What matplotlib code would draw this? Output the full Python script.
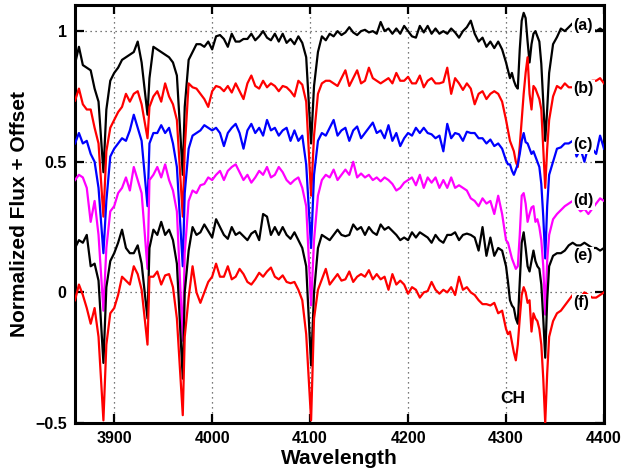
import numpy as np
import matplotlib
matplotlib.use("Agg")
import matplotlib.pyplot as plt

# ---------------- data ----------------
wavelength = [
    3860, 3864, 3868, 3872, 3876, 3880, 3884,
    3889,
    3892, 3896, 3900, 3904, 3908, 3912, 3916, 3920, 3924, 3928,
    3934,
    3936, 3940, 3944, 3948, 3952, 3956, 3960, 3964,
    3970,
    3972, 3976, 3980, 3984, 3988, 3992, 3996, 4000, 4004, 4008, 4012, 4016,
    4020, 4024, 4028, 4032, 4036, 4040, 4044, 4048, 4052, 4056, 4060, 4064,
    4068, 4072, 4076, 4080, 4084, 4088, 4092, 4096,
    4101,
    4104, 4108, 4112, 4116, 4120, 4124, 4128, 4132, 4136, 4140, 4144, 4148,
    4152, 4156, 4160, 4164, 4168, 4172, 4176, 4180, 4184, 4188, 4192, 4196,
    4200, 4204, 4208, 4212, 4216, 4220, 4224, 4228, 4232, 4236, 4240, 4244,
    4248, 4252, 4256, 4260, 4264, 4268, 4272, 4276, 4280, 4284, 4288, 4292,
    4296,
    4300, 4302, 4304, 4306, 4308, 4310, 4312, 4314, 4316, 4318, 4320, 4322,
    4324, 4326, 4328, 4330, 4332, 4334, 4336, 4338, 4340, 4342, 4344,
    4348, 4352, 4356, 4360, 4364, 4368, 4372, 4376, 4380, 4384, 4388, 4392,
    4396, 4400,
]

flux_a = [
    0.875, 0.94, 0.87, 0.86, 0.85, 0.78, 0.73,
    0.46,
    0.70, 0.81, 0.84, 0.86, 0.89, 0.90, 0.91, 0.92, 0.96, 0.88,
    0.68,
    0.82, 0.94, 0.93, 0.92, 0.91, 0.90, 0.88, 0.83,
    0.45,
    0.71, 0.89, 0.92, 0.95, 0.95, 0.94, 0.96, 0.93, 0.98, 0.985, 0.97, 0.94,
    0.99, 0.96, 0.96, 0.97, 0.97, 0.99, 0.965, 0.98, 1.00, 0.975, 0.965, 0.99,
    0.96, 0.99, 0.955, 0.97, 0.95, 0.98, 0.955, 0.90,
    0.57,
    0.79, 0.92, 0.98, 0.965, 0.99, 0.98, 1.00, 0.985, 0.995, 1.015, 0.995, 0.985,
    1.00, 1.005, 0.995, 1.00, 0.99, 1.035, 1.00, 1.01, 0.99, 1.01, 0.99, 1.02,
    1.00, 0.98, 0.975, 1.02, 0.995, 1.02, 0.99, 1.01, 0.99, 1.00, 0.99, 1.01,
    0.995, 0.975, 1.00, 1.015, 1.04, 0.99, 0.96, 0.975, 0.94, 0.96, 0.935, 0.96,
    0.93,
    0.88, 0.85, 0.82, 0.84, 0.81, 0.79, 0.78, 0.93, 1.04, 1.07, 1.05, 0.96,
    0.88, 0.95, 0.99, 1.00, 0.98, 0.96, 0.875, 0.73, 0.58, 0.70, 0.84,
    0.95, 0.977, 1.01, 1.00, 1.015, 1.03, 1.02, 1.00, 1.01, 1.00, 1.01, 1.00,
    1.01, 1.00,
]

flux_b = [
    0.734, 0.78, 0.72, 0.70, 0.70, 0.63, 0.57,
    0.29,
    0.54, 0.63, 0.66, 0.69, 0.71, 0.76, 0.73, 0.76, 0.77, 0.72,
    0.59,
    0.71, 0.75, 0.77, 0.73, 0.80, 0.75, 0.72, 0.66,
    0.29,
    0.55, 0.80, 0.785, 0.78, 0.76, 0.74, 0.71, 0.77, 0.79, 0.785, 0.77, 0.79,
    0.765, 0.80, 0.77, 0.74, 0.80, 0.83, 0.79, 0.78, 0.81, 0.785, 0.80, 0.79,
    0.77, 0.79, 0.785, 0.77, 0.75, 0.81, 0.795, 0.73,
    0.37,
    0.60, 0.76, 0.80, 0.81, 0.81, 0.80, 0.79, 0.82, 0.85, 0.79, 0.82, 0.85,
    0.80, 0.81, 0.86, 0.82, 0.81, 0.80, 0.81, 0.82, 0.80, 0.84, 0.81, 0.81,
    0.825, 0.80, 0.80, 0.83, 0.785, 0.81, 0.82, 0.80, 0.80, 0.805, 0.86, 0.76,
    0.82, 0.80, 0.775, 0.80, 0.78, 0.72, 0.76, 0.77, 0.74, 0.76, 0.77, 0.76,
    0.73,
    0.66, 0.62, 0.58, 0.56, 0.54, 0.50, 0.48, 0.56, 0.66, 0.76, 0.84, 0.90,
    0.76, 0.70, 0.79, 0.78, 0.76, 0.74, 0.70, 0.55, 0.40, 0.55, 0.66,
    0.75, 0.79, 0.78, 0.80, 0.785, 0.785, 0.79, 0.80, 0.78, 0.80, 0.81, 0.81,
    0.82, 0.80,
]

flux_c = [
    0.57, 0.61, 0.57, 0.58, 0.53, 0.50, 0.40,
    0.15,
    0.35, 0.52, 0.55, 0.57, 0.59, 0.58, 0.62, 0.68, 0.63, 0.58,
    0.33,
    0.57, 0.61, 0.61, 0.64, 0.61, 0.63, 0.57, 0.48,
    0.10,
    0.38, 0.55, 0.60, 0.61, 0.62, 0.64, 0.63, 0.62, 0.63, 0.61, 0.56, 0.61,
    0.63, 0.645, 0.61, 0.55, 0.62, 0.645, 0.61, 0.63, 0.60, 0.66, 0.62, 0.63,
    0.60, 0.62, 0.63, 0.58, 0.62, 0.58, 0.60, 0.49,
    0.17,
    0.45, 0.58, 0.61, 0.60, 0.63, 0.66, 0.60, 0.62, 0.63, 0.58, 0.62, 0.635,
    0.59, 0.61, 0.63, 0.65, 0.61, 0.62, 0.59, 0.64, 0.58, 0.61, 0.56, 0.59,
    0.61, 0.60, 0.63, 0.61, 0.63, 0.61, 0.605, 0.59, 0.60, 0.54, 0.645, 0.59,
    0.61, 0.605, 0.58, 0.615, 0.61, 0.61, 0.59, 0.59, 0.57, 0.585, 0.56, 0.57,
    0.55,
    0.505, 0.49, 0.49, 0.466, 0.45, 0.47, 0.49, 0.53, 0.58, 0.61, 0.575, 0.57,
    0.55, 0.53, 0.54, 0.52, 0.50, 0.48, 0.415, 0.29, 0.13, 0.33, 0.45,
    0.50, 0.55, 0.555, 0.57, 0.57, 0.58, 0.52, 0.55, 0.50, 0.56, 0.55, 0.53,
    0.60, 0.55,
]

flux_d = [
    0.43, 0.45, 0.44, 0.40, 0.27, 0.35, 0.22,
    -0.07,
    0.17, 0.31, 0.33, 0.38, 0.40, 0.44, 0.39, 0.48, 0.43, 0.38,
    0.09,
    0.43, 0.45, 0.48, 0.44, 0.49, 0.43, 0.39, 0.31,
    -0.185,
    0.15, 0.35, 0.39, 0.38, 0.41, 0.415, 0.44, 0.43, 0.45, 0.465, 0.43, 0.465,
    0.48, 0.49, 0.46, 0.43, 0.45, 0.42, 0.44, 0.465, 0.45, 0.48, 0.44, 0.45,
    0.48, 0.46, 0.43, 0.415, 0.43, 0.44, 0.40, 0.33,
    -0.05,
    0.20, 0.37, 0.43, 0.45, 0.44, 0.47, 0.43, 0.45, 0.47, 0.45, 0.50, 0.44,
    0.455, 0.44, 0.45, 0.43, 0.44, 0.425, 0.44, 0.43, 0.415, 0.39, 0.40, 0.42,
    0.43, 0.44, 0.41, 0.45, 0.40, 0.44, 0.42, 0.44, 0.40, 0.43, 0.40, 0.44,
    0.40, 0.41, 0.40, 0.39, 0.36, 0.35, 0.33, 0.36, 0.34, 0.35, 0.30, 0.37,
    0.30,
    0.20, 0.19, 0.16, 0.13, 0.11, 0.09, 0.10, 0.22, 0.37, 0.38, 0.34, 0.27,
    0.30, 0.325, 0.33, 0.27, 0.28, 0.25, 0.20, 0.10, -0.085, 0.12, 0.22,
    0.28, 0.30, 0.315, 0.33, 0.34, 0.35, 0.33, 0.31, 0.32, 0.30, 0.32, 0.34,
    0.36, 0.35,
]

flux_e = [
    0.17, 0.20, 0.19, 0.22, 0.10, 0.11, 0.045,
    -0.27,
    0.02, 0.12, 0.15, 0.19, 0.24, 0.17, 0.15, 0.15, 0.18, 0.11,
    -0.10,
    0.17, 0.24, 0.22, 0.27, 0.22, 0.24, 0.20, 0.11,
    -0.33,
    0.00, 0.16, 0.25, 0.22, 0.23, 0.26, 0.235, 0.21, 0.28, 0.25, 0.22, 0.205,
    0.25, 0.22, 0.23, 0.215, 0.20, 0.225, 0.235, 0.20, 0.30, 0.29, 0.22, 0.25,
    0.22, 0.25, 0.22, 0.205, 0.23, 0.20, 0.17, 0.10,
    -0.28,
    0.00, 0.17, 0.22, 0.21, 0.20, 0.22, 0.24, 0.22, 0.215, 0.22, 0.26, 0.24,
    0.25, 0.22, 0.25, 0.23, 0.22, 0.26, 0.24, 0.25, 0.235, 0.22, 0.20, 0.21,
    0.20, 0.23, 0.21, 0.23, 0.22, 0.21, 0.19, 0.22, 0.20, 0.19, 0.22, 0.22,
    0.23, 0.20, 0.22, 0.225, 0.22, 0.21, 0.16, 0.25, 0.14, 0.21, 0.14, 0.17,
    0.16,
    0.10, 0.04, -0.03, -0.05, -0.06, -0.10, -0.12, 0.04, 0.19, 0.23, 0.17, 0.10,
    0.08, 0.12, 0.16, 0.12, 0.10, 0.09, 0.03, -0.10, -0.25, -0.03, 0.10,
    0.14, 0.15, 0.15, 0.16, 0.18, 0.19, 0.18, 0.18, 0.19, 0.18, 0.17, 0.17,
    0.16, 0.17,
]

flux_f = [
    -0.03, 0.03, -0.01, -0.06, -0.12, -0.06, -0.17,
    -0.49,
    -0.20, -0.08, -0.06, -0.01, 0.06, 0.045, 0.03, 0.10, 0.07, 0.01,
    -0.20,
    0.06, 0.06, 0.08, 0.03, 0.065, 0.07, 0.02, -0.10,
    -0.47,
    -0.17, -0.02, 0.10, 0.00, -0.04, 0.00, 0.04, 0.06, 0.11, 0.06, 0.06, 0.10,
    0.05, 0.06, 0.09, 0.07, 0.04, 0.03, 0.05, 0.075, 0.06, 0.08, 0.095, 0.06,
    0.05, 0.065, 0.04, 0.035, 0.04, 0.01, -0.03, -0.16,
    -0.49,
    -0.10, 0.01, 0.05, 0.09, 0.03, 0.05, 0.07, 0.045, 0.05, 0.08, 0.04, 0.06,
    0.07, 0.06, 0.085, 0.05, 0.07, 0.05, 0.06, 0.01, 0.07, 0.03, 0.045, 0.03,
    -0.005, 0.02, 0.01, -0.02, 0.00, 0.005, 0.04, 0.01, -0.005, 0.01, 0.00, 0.02,
    -0.01, 0.06, 0.01, 0.02, 0.00, -0.01, -0.03, -0.045, -0.045, -0.05, -0.04, -0.08,
    -0.07,
    -0.14, -0.16, -0.15, -0.19, -0.23, -0.26, -0.20, -0.10, -0.01, 0.02, 0.00, -0.04,
    -0.03, -0.15, -0.08, -0.10, -0.11, -0.14, -0.20, -0.33, -0.50, -0.31, -0.17,
    -0.11, -0.08, -0.07, -0.05, -0.03, -0.01, -0.01, -0.02, 0.00, -0.01, -0.02, -0.02,
    -0.01, 0.00,
]

spectra = [flux_a, flux_b, flux_c, flux_d, flux_e, flux_f]
spectrum_labels = ["(a)", "(b)", "(c)", "(d)", "(e)", "(f)"]
colors = ["black", "red", "blue", "magenta", "black", "red"]

x_ticks = [3900, 4000, 4100, 4200, 4300, 4400]
y_ticks = [-0.5, 0, 0.5, 1]
y_tick_labels = ["\u22120.5", "0", "0.5", "1"]

for s in spectra:
    assert len(s) == len(wavelength), (len(s), len(wavelength))

# ---------------- figure ----------------
plt.rcParams["font.family"] = ["Liberation Sans", "DejaVu Sans"]
plt.rcParams["font.weight"] = "bold"
plt.rcParams["axes.labelweight"] = "bold"

fig = plt.figure(figsize=(6.23, 4.76), dpi=100)
ax = fig.add_axes([0.1204, 0.1113, 0.8491, 0.8782])

for flux, col in zip(spectra, colors):
    ax.plot(wavelength, flux, color=col, linewidth=1.6, zorder=3)

label_x = 4369
label_y = [1.02, 0.78, 0.565, 0.35, 0.14, -0.04]
for lab, ly in zip(spectrum_labels, label_y):
    ax.text(label_x, ly, lab, fontsize=11.5, fontweight="bold", ha="left",
            va="center", zorder=5,
            bbox=dict(facecolor="white", edgecolor="none", pad=1.0))

ax.text(4307, -0.405, "CH", fontsize=12.5, fontweight="bold", ha="center",
        va="center", zorder=5)

ax.set_xlim(3860, 4400)
ax.set_ylim(-0.5, 1.1)
ax.set_xticks(x_ticks)
ax.set_yticks(y_ticks)
ax.set_yticklabels(y_tick_labels)

ax.grid(True, linestyle=(0, (1, 3)), color="0.3", linewidth=0.9)
ax.set_axisbelow(True)
ax.tick_params(direction="in", length=6.5, width=1.6, top=True, right=True,
               labelsize=11.5, pad=6)
for sp in ax.spines.values():
    sp.set_linewidth(2.2)

ax.set_xlabel("Wavelength", fontsize=15, fontweight="bold", labelpad=2)
ax.set_ylabel("Normalized Flux + Offset", fontsize=15, fontweight="bold",
              labelpad=4)

fig.savefig("out.png", dpi=100)
